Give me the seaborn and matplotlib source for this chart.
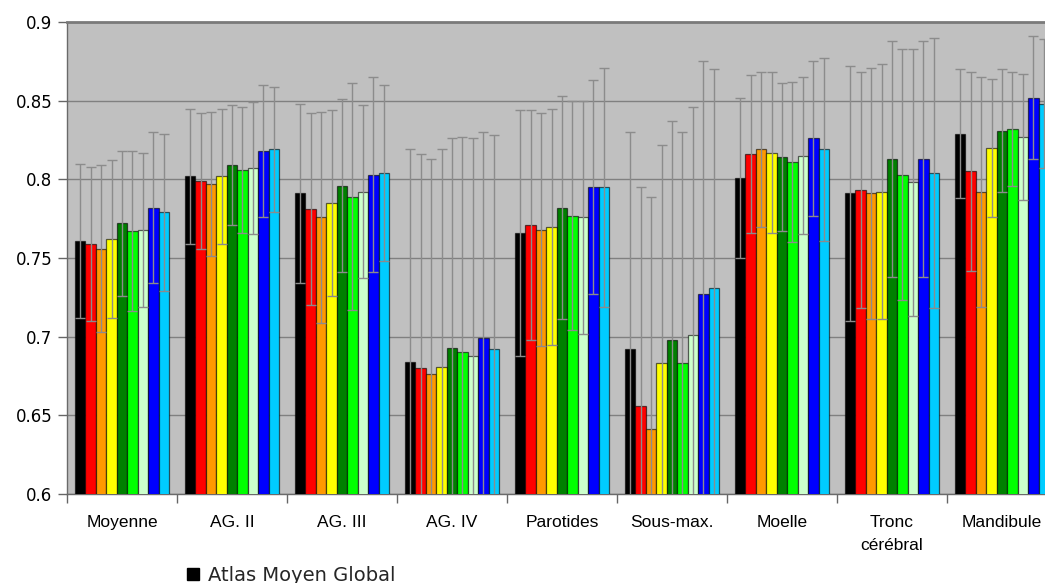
import matplotlib
matplotlib.use("Agg")
import matplotlib.pyplot as plt
from matplotlib.patches import Patch
import seaborn as sns
import pandas as pd

# --- données ---
categories = ["Moyenne", "AG. II", "AG. III", "AG. IV", "Parotides",
              "Sous-max.", "Moelle", "Tronc\ncérébral", "Mandibule"]
series_names = ["Atlas Moyen Global", "Série 2", "Série 3", "Série 4", "Série 5",
                "Série 6", "Série 7", "Série 8", "Série 9"]
series_colors = ["#000000", "#ff0000", "#ff9900", "#ffff00", "#008000",
                 "#00ff00", "#ccffcc", "#0000ff", "#00ccff"]

v_black = [0.761, 0.802, 0.791, 0.684, 0.766, 0.692, 0.801, 0.791, 0.829]
v_red = [0.759, 0.799, 0.781, 0.680, 0.771, 0.656, 0.816, 0.793, 0.805]
v_orange = [0.756, 0.797, 0.776, 0.676, 0.768, 0.641, 0.819, 0.791, 0.792]
v_yellow = [0.762, 0.802, 0.785, 0.681, 0.770, 0.683, 0.817, 0.792, 0.820]
v_dkgreen = [0.772, 0.809, 0.796, 0.693, 0.782, 0.698, 0.814, 0.813, 0.831]
v_green = [0.767, 0.806, 0.789, 0.690, 0.777, 0.683, 0.811, 0.803, 0.832]
v_pale = [0.768, 0.807, 0.792, 0.688, 0.776, 0.701, 0.815, 0.798, 0.827]
v_blue = [0.782, 0.818, 0.803, 0.699, 0.795, 0.727, 0.826, 0.813, 0.852]
v_cyan = [0.779, 0.819, 0.804, 0.692, 0.795, 0.731, 0.819, 0.804, 0.848]

# demi-largeur des barres d'erreur
e_black = [0.049, 0.043, 0.057, 0.135, 0.078, 0.138, 0.051, 0.081, 0.041]
e_red = [0.049, 0.043, 0.061, 0.136, 0.073, 0.139, 0.050, 0.075, 0.063]
e_orange = [0.053, 0.046, 0.067, 0.137, 0.074, 0.148, 0.049, 0.080, 0.073]
e_yellow = [0.050, 0.043, 0.059, 0.138, 0.075, 0.139, 0.051, 0.081, 0.044]
e_dkgreen = [0.046, 0.038, 0.055, 0.133, 0.071, 0.139, 0.047, 0.075, 0.039]
e_green = [0.051, 0.040, 0.072, 0.137, 0.073, 0.147, 0.051, 0.080, 0.036]
e_pale = [0.049, 0.042, 0.055, 0.138, 0.074, 0.145, 0.050, 0.085, 0.040]
e_blue = [0.048, 0.042, 0.062, 0.131, 0.068, 0.148, 0.049, 0.075, 0.039]
e_cyan = [0.050, 0.040, 0.056, 0.136, 0.076, 0.139, 0.058, 0.086, 0.041]

values = [v_black, v_red, v_orange, v_yellow, v_dkgreen, v_green, v_pale, v_blue, v_cyan]
errors = [e_black, e_red, e_orange, e_yellow, e_dkgreen, e_green, e_pale, e_blue, e_cyan]

rows = []
for name, vals, errs in zip(series_names, values, errors):
    for cat, v, e in zip(categories, vals, errs):
        rows.append({"organe": cat, "serie": name, "dice": v, "err": e})
df = pd.DataFrame(rows)

sns.set_style("white")
plt.rcParams['font.family'] = ['DejaVu Sans']

fig = plt.figure(figsize=(10.45, 5.83), dpi=100)
# l'axe déborde à droite : le dernier groupe est coupé comme dans l'original
ax = fig.add_axes([67 / 1045, 89 / 583, 990 / 1045, 472 / 583])
ax.set_facecolor("#c0c0c0")

sns.barplot(data=df, x="organe", y="dice", hue="serie", order=categories,
            hue_order=series_names, palette=series_colors, saturation=1,
            width=0.855, edgecolor=(0, 0, 0, 0.6), linewidth=0.9,
            errorbar=None, legend=False, ax=ax, zorder=3)

# barres d'erreur au centre de chaque barre
for cont, name in zip(ax.containers, series_names):
    sub = df[df["serie"] == name].set_index("organe").loc[categories]
    xs = [b.get_x() + b.get_width() / 2 for b in cont]
    ax.errorbar(xs, sub["dice"], yerr=sub["err"], fmt="none", ecolor="#8c8c8c",
                elinewidth=1, capsize=3.5, capthick=1, zorder=4)

ax.set_ylim(0.6, 0.9)
ax.set_xlim(-0.5, len(categories) - 0.5)
ax.set_yticks([0.6, 0.65, 0.7, 0.75, 0.8, 0.85, 0.9])
ax.set_yticklabels(["0.6", "0.65", "0.7", "0.75", "0.8", "0.85", "0.9"])
ax.grid(axis="y", color="#808080", linewidth=1, zorder=0)
ax.set_axisbelow(True)
ax.set_xlabel("")
ax.set_ylabel("")

ax.tick_params(axis="y", direction="out", length=6.5, width=1, color="#666666",
               labelsize=12, labelcolor="black", pad=4, left=True)
ax.tick_params(axis="x", which="major", length=0, labelsize=12.5,
               labelcolor="black", pad=15)
for lbl in ax.get_xticklabels():
    lbl.set_family(["Liberation Sans", "DejaVu Sans"])
    lbl.set_linespacing(1.65)
ax.set_xticks([i - 0.5 for i in range(len(categories) + 1)], minor=True)
ax.tick_params(axis="x", which="minor", direction="out", length=6.5, width=1,
               color="#666666", bottom=True)

for side in ["left", "bottom"]:
    ax.spines[side].set_color("#6a6a6a")
    ax.spines[side].set_linewidth(1)
ax.spines["top"].set_color("#7a7a7a")
ax.spines["top"].set_linewidth(2)
ax.spines["right"].set_visible(False)

# légende en bas, coupée par le bord de l'image
fig.legend(handles=[Patch(facecolor="black", edgecolor="black")],
           labels=["Atlas Moyen Global"], loc="upper left",
           bbox_to_anchor=(187 / 1045, (583 - 566) / 583), frameon=False,
           fontsize=14, handlelength=0.6, handleheight=0.6, handletextpad=0.5,
           borderaxespad=0, borderpad=0)

fig.savefig("out.png", dpi=100, facecolor="white")
